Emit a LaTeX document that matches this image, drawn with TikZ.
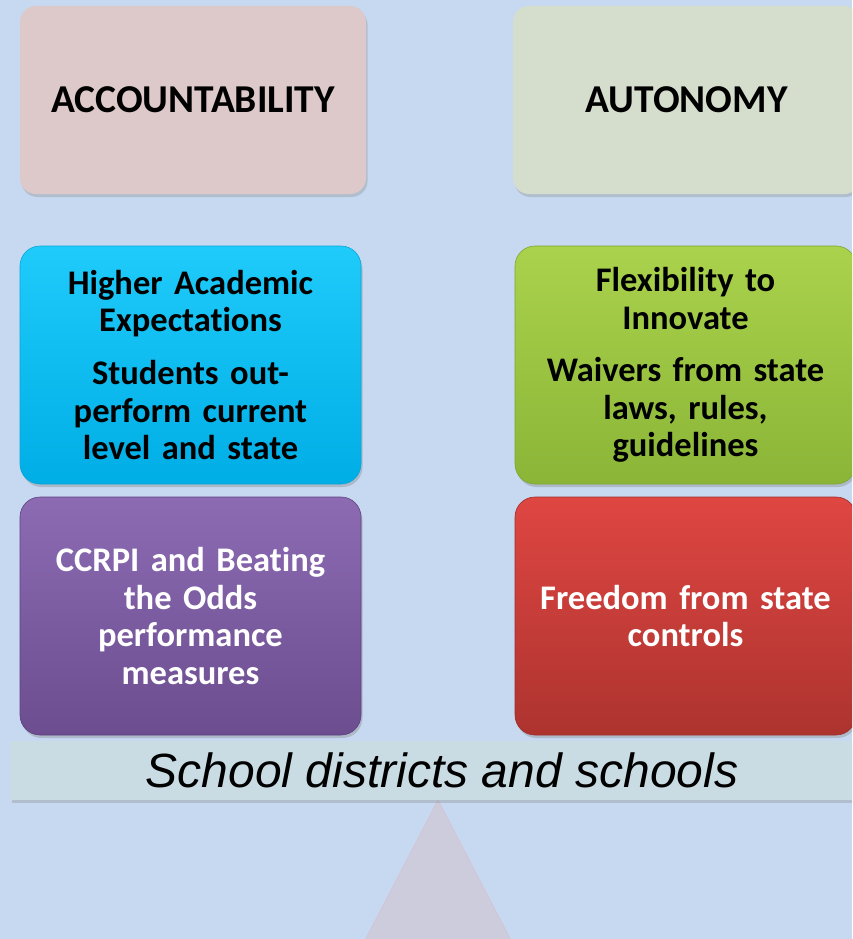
\documentclass[tikz,border=0pt]{standalone}
\usepackage{fontspec}
\setmainfont{Carlito}[Ligatures=NoCommon]
\newfontfamily\arialfont{Liberation Sans}
\usetikzlibrary{shadows}
\definecolor{bgblue}{HTML}{C6D9F0}
\definecolor{pinkbox}{HTML}{DDC9C9}
\definecolor{sagebox}{HTML}{D5DECC}
\definecolor{barcol}{HTML}{C9DCE3}
\definecolor{tricol}{HTML}{CDCCDD}
\definecolor{triedge}{HTML}{D4C4D6}
\definecolor{cyantop}{HTML}{1FCBFA}
\definecolor{cyanbot}{HTML}{00AEE6}
\definecolor{cyanline}{HTML}{0AA5D8}
\definecolor{greentop}{HTML}{AAD24C}
\definecolor{greenbot}{HTML}{8BB537}
\definecolor{greenline}{HTML}{7FA532}
\definecolor{purptop}{HTML}{8C6BB3}
\definecolor{purpbot}{HTML}{6C4D8F}
\definecolor{purpline}{HTML}{5E4380}
\definecolor{redtop}{HTML}{DF4642}
\definecolor{redbot}{HTML}{AD332F}
\definecolor{redline}{HTML}{9E2E2A}
\tikzset{
  box/.style={rounded corners=20pt, minimum width=341pt, minimum height=238pt,
    align=center, inner sep=0pt, text width=330pt, line width=0.6pt,
    drop shadow={opacity=0.35, shadow xshift=1.5pt, shadow yshift=-3pt},
    font=\fontsize{34.5}{37.4}\selectfont\bfseries},
  headbox/.style={rounded corners=16pt, minimum width=346pt, minimum height=188pt,
    align=center, inner sep=0pt,
    drop shadow={opacity=0.3, shadow xshift=1.5pt, shadow yshift=-3pt},
    font=\fontsize{39.5}{44}\selectfont\bfseries},
}
\begin{document}
\begin{tikzpicture}[x=1pt,y=1pt]
\useasboundingbox (0,0) rectangle (852,-939);
\clip (0,0) rectangle (852,-939);
\fill[bgblue] (0,0) rectangle (852,-939);
% headers
\node[headbox, fill=pinkbox] (acc) at (193,-100) {ACCOUNTABILITY};
\node[headbox, fill=sagebox, minimum width=347pt] (aut) at (686.5,-100) {AUTONOMY};
% middle row
\node[box, top color=cyantop, bottom color=cyanbot, draw=cyanline] (hae) at (190.5,-365)
  {Higher Academic\\Expectations\\[15.5pt]Students out-\\perform current\\level and state};
\node[box, top color=greentop, bottom color=greenbot, draw=greenline] (flex) at (685.5,-365)
  {Flexibility to\\Innovate\\[15.5pt]Waivers from state\\laws, rules,\\guidelines};
% bottom row
\node[box, top color=purptop, bottom color=purpbot, draw=purpline, text=white] (ccrpi) at (190.5,-616)
  {CCRPI and Beating\\the Odds\\performance\\measures};
\node[box, top color=redtop, bottom color=redbot, draw=redline, text=white] (free) at (685.5,-616)
  {Freedom from state\\controls};
% triangle
\coordinate (apex) at (438,-800);
\coordinate (bl) at (360,-950);
\coordinate (br) at (516,-950);
\fill[tricol, draw=triedge, line width=0.8pt] (apex) -- (br) -- (bl) -- cycle;
% bar
\node[fill=barcol, minimum width=860pt, minimum height=59pt, inner sep=0pt,
  drop shadow={opacity=0.3, shadow xshift=1.5pt, shadow yshift=-3pt}] (bar) at (440,-770.5) {};
\node[font=\arialfont\itshape\fontsize{48}{52}\selectfont, inner sep=0pt] (bartext) at (442,-770) {School districts and schools};
\end{tikzpicture}
\end{document}
